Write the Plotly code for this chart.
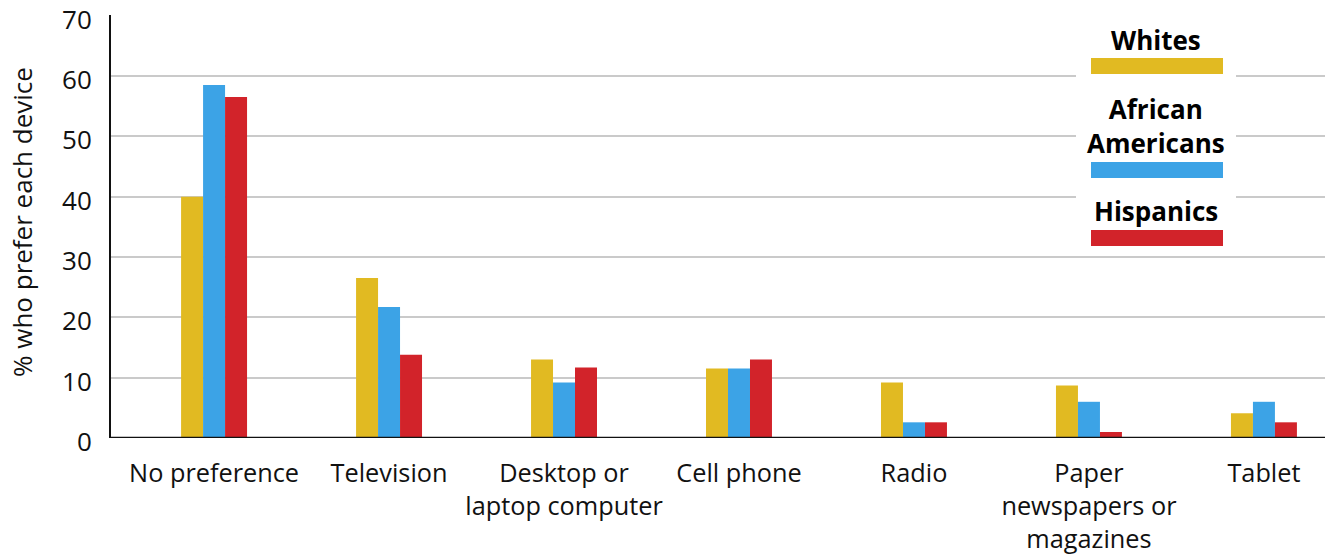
import plotly.graph_objects as go

# Preferred device for getting news, by race/ethnicity (%)
categories = [
    "No preference",
    "Television",
    "Desktop or<br>laptop computer",
    "Cell phone",
    "Radio",
    "Paper<br>newspapers or<br>magazines",
    "Tablet",
]
whites = [40, 26.5, 13, 11.5, 9.2, 8.7, 4.1]
african_americans = [58.5, 21.7, 9.2, 11.5, 2.6, 6.0, 6.0]
hispanics = [56.5, 13.8, 11.7, 13, 2.6, 1.0, 2.6]
y_ticks = [0, 10, 20, 30, 40, 50, 60, 70]

series_names = ["Whites", "African<br>Americans", "Hispanics"]
series_values = [whites, african_americans, hispanics]
colors = ["#E1BA22", "#3CA3E6", "#D2232A"]

W, H = 1325, 554
L, R, T, B = 111, 0, 15, 116
FONT = "Open Sans"

fig = go.Figure()
for name, vals, col in zip(series_names, series_values, colors):
    fig.add_trace(go.Bar(
        x=list(range(len(categories))), y=vals, name=name,
        marker=dict(color=col, line=dict(width=0)),
        showlegend=False,
    ))


def px_x(x):
    return (x - L) / (W - L - R)


def px_y(y):
    return (H - B - y) / (H - T - B)


shapes = [
    # white panel behind the legend
    dict(type="rect", xref="paper", yref="paper", layer="above",
         x0=px_x(1076), x1=px_x(1236), y0=px_y(250), y1=px_y(17),
         fillcolor="white", line=dict(width=0)),
]
swatch_rows = [(58, 74), (162, 178), (230, 246)]
for (ya, yb), col in zip(swatch_rows, colors):
    shapes.append(dict(type="rect", xref="paper", yref="paper", layer="above",
                       x0=px_x(1091), x1=px_x(1223), y0=px_y(yb), y1=px_y(ya),
                       fillcolor=col, line=dict(width=0)))

annotations = [
    dict(text="% who prefer each device", xref="paper", yref="paper",
         x=px_x(22), y=px_y(222), textangle=-90, showarrow=False,
         xanchor="center", yanchor="middle",
         font=dict(family=FONT, size=26, color="#111")),
]
label_centers = [40, 126, 211]
for name, yc in zip(series_names, label_centers):
    annotations.append(dict(text="<b>%s</b>" % name, xref="paper", yref="paper",
                            x=px_x(1156), y=px_y(yc), showarrow=False,
                            xanchor="center", yanchor="middle",
                            font=dict(family=FONT, size=26, color="#000")))

fig.update_layout(
    width=W, height=H,
    margin=dict(l=L, r=R, t=T, b=B, pad=0),
    paper_bgcolor="white", plot_bgcolor="white",
    barmode="group", bargap=0.623, bargroupgap=0,
    font=dict(family=FONT, color="#111"),
    shapes=shapes, annotations=annotations,
    xaxis=dict(
        tickmode="array", tickvals=list(range(len(categories))),
        ticktext=categories, range=[-0.589, 6.349],
        showgrid=False, zeroline=False, showline=False, automargin=False,
        ticks="outside", ticklen=13, tickcolor="rgba(0,0,0,0)",
        tickfont=dict(family=FONT, size=25.3, color="#111"),
        tickangle=0, ticklabeloverflow="allow",
    ),
    yaxis=dict(
        range=[0, 70.1], tickvals=y_ticks, automargin=False,
        showgrid=True, gridcolor="#CACACA", gridwidth=2,
        zeroline=False, showline=True, linecolor="#111", linewidth=2,
        ticks="outside", ticklen=12, tickcolor="rgba(0,0,0,0)",
        tickfont=dict(family=FONT, size=26, color="#111"),
        ticklabeloverflow="allow", ticklabelshift=4,
    ),
)

# black baseline under the bars
fig.add_shape(type="line", xref="paper", yref="y", x0=0, x1=1, y0=0, y1=0,
              line=dict(color="#111", width=2.5), layer="above")

fig.write_html("out.html")
